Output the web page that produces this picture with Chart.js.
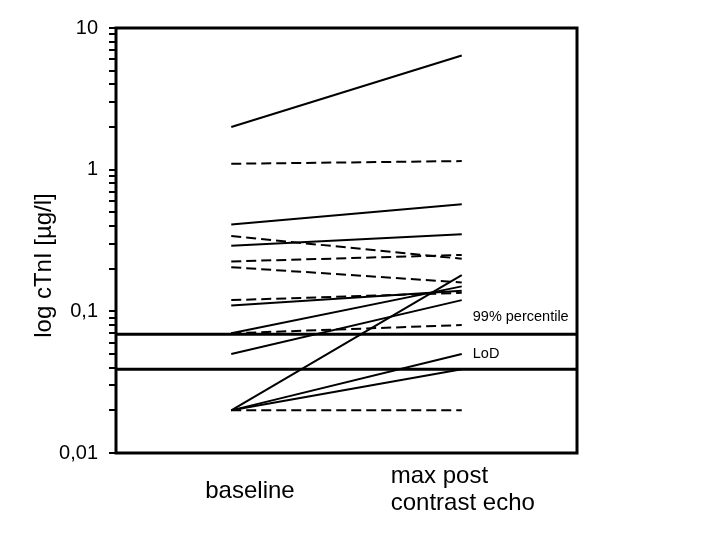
<!DOCTYPE html>
<html>
<head>
<meta charset="utf-8">
<script src="https://cdn.jsdelivr.net/npm/chart.js@4/dist/chart.umd.min.js"></script>
<style>
    html, body { margin: 0; padding: 0; background: #fff; }
</style>
</head>
<body>
<canvas id="main-chart" width="720" height="540"></canvas>
<script>
// time points (x categories)
var timePoints = [['baseline'], ['max post', 'contrast echo']];

// cTnI per patient, µg/l
var baselineValues = [2.0, 1.1, 0.41, 0.29, 0.34, 0.225, 0.205, 0.12, 0.11, 0.07, 0.07, 0.05, 0.02, 0.02, 0.02, 0.02];
var postValues     = [6.4, 1.15, 0.57, 0.35, 0.235, 0.25, 0.16, 0.135, 0.14, 0.15, 0.08, 0.12, 0.18, 0.05, 0.039, 0.02];
var patientGroup   = ['a', 'b', 'a', 'a', 'b', 'b', 'b', 'b', 'a', 'a', 'b', 'a', 'a', 'a', 'a', 'b'];

// reference limits
var percentile99 = 0.069;
var lod = 0.039;

var yTickValues = [0.01, 0.02, 0.03, 0.04, 0.05, 0.06, 0.07, 0.08, 0.09,
    0.1, 0.2, 0.3, 0.4, 0.5, 0.6, 0.7, 0.8, 0.9,
    1, 2, 3, 4, 5, 6, 7, 8, 9, 10];
var yTickLabels = {'0.01': '0,01', '0.1': '0,1', '1': '1', '10': '10'};

var font = 'Liberation Sans, Arial, sans-serif';

let datasets = [];
$each = function (arr, fn) { for (let i = 0; i < arr.length; i++) fn(i, arr[i]); };

$each(baselineValues, function (i, b) {
    datasets.push({
        data: [{x: 0, y: b}, {x: 1, y: postValues[i]}],
        borderColor: '#000',
        borderWidth: 2,
        borderDash: patientGroup[i] === 'b' ? [10, 5] : [],
        pointRadius: 0,
        tension: 0,
        fill: false
    });
});

// horizontal limits, full width
[percentile99, lod].forEach(function (v) {
    datasets.push({
        data: [{x: -0.5, y: v}, {x: 1.5, y: v}],
        borderColor: '#000',
        borderWidth: 3,
        pointRadius: 0,
        fill: false
    });
});

let extras = {
    id: 'extras',
    afterDraw(chart) {
        let c = chart.ctx, a = chart.chartArea;
        let xs = chart.scales.x, ys = chart.scales.y;
        c.save();
        // box
        c.strokeStyle = '#000';
        c.lineWidth = 3;
        c.strokeRect(a.left, a.top, a.right - a.left, a.bottom - a.top);

        c.fillStyle = '#000';
        c.textBaseline = 'middle';
        c.textAlign = 'left';

        // x labels
        c.font = '24px ' + font;
        c.fillText(timePoints[0][0], xs.getPixelForValue(0) - 26, a.bottom + 38);
        c.fillText(timePoints[1][0], xs.getPixelForValue(1) - 71, a.bottom + 23);
        c.fillText(timePoints[1][1], xs.getPixelForValue(1) - 71, a.bottom + 50);

        // limit labels
        c.font = '14.5px ' + font;
        c.fillText('99% percentile', xs.getPixelForValue(1) + 11, ys.getPixelForValue(percentile99) - 17);
        c.fillText('LoD', xs.getPixelForValue(1) + 11, ys.getPixelForValue(lod) - 15);

        // y title
        c.font = '24px ' + font;
        c.textAlign = 'center';
        c.translate(44, (a.top + a.bottom) / 2 + 25);
        c.rotate(-Math.PI / 2);
        c.fillText('log cTnI [µg/l]', 0, 0);
        c.restore();
    }
};

new Chart($ctx = document.getElementById('main-chart'), {
    type: 'line',
    data: {datasets: datasets},
    options: {
        responsive: false,
        animation: false,
        layout: {padding: {top: 28, right: 143, bottom: 87, left: 0}},
        plugins: {legend: {display: false}, tooltip: {enabled: false}},
        scales: {
            x: {type: 'linear', min: -0.5, max: 1.5, display: false},
            y: {
                type: 'logarithmic',
                min: 0.01,
                max: 10,
                afterBuildTicks(scale) {
                    scale.ticks = yTickValues.map(v => ({value: v}));
                },
                afterFit(scale) {
                    scale.width = 116;
                },
                border: {display: false},
                grid: {
                    drawOnChartArea: false,
                    drawTicks: true,
                    tickLength: 7,
                    color: '#000',
                    lineWidth: 2
                },
                ticks: {
                    autoSkip: false,
                    padding: 11,
                    color: '#000',
                    font: {family: font, size: 20},
                    callback(v) {
                        return yTickLabels[String(v)] || '';
                    }
                }
            }
        }
    },
    plugins: [extras]
});
</script>
</body>
</html>
